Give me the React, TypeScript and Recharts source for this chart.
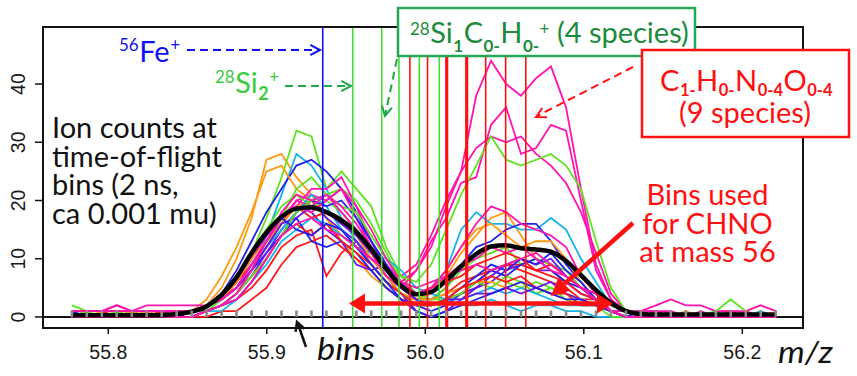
import React from 'react';
import { ComposedChart, Line, Scatter, XAxis, YAxis, ReferenceLine } from 'recharts';

// time-of-flight bin centres (m/z)
const bins = [55.777, 55.7864, 55.7959, 55.8053, 55.8148, 55.8242, 55.8337, 55.8431, 55.8526, 55.862, 55.8715, 55.8809, 55.8904, 55.8998, 55.9093, 55.9187, 55.9282, 55.9376, 55.9471, 55.9565, 55.9659, 55.9754, 55.9848, 55.9943, 56.0037, 56.0132, 56.0226, 56.0321, 56.0415, 56.051, 56.0604, 56.0699, 56.0793, 56.0888, 56.0982, 56.1077, 56.1171, 56.1266, 56.136, 56.1455, 56.1549, 56.1644, 56.1738, 56.1833, 56.1927, 56.2022, 56.2116, 56.2211];

const meanCounts = [0.3, 0.3, 0.3, 0.3, 0.3, 0.3, 0.3, 0.5, 0.9, 1.8, 3.8, 6.8, 11.0, 14.5, 17.2, 18.6, 18.8, 18.0, 16.6, 14.6, 11.6, 8.2, 5.3, 3.9, 4.3, 6.3, 8.7, 10.8, 12.1, 12.3, 11.8, 11.6, 11.2, 9.6, 7.2, 4.6, 2.4, 1.0, 0.5, 0.4, 0.4, 0.4, 0.4, 0.4, 0.4, 0.4, 0.4, 0.4];

const red1 = [0,0,0,0,0,0,0,0, 0,1,2,3,5,8,12,14, 15,7,11,13,9,6,4,3, 3,4,6,7,8,9,8,7, 6,5,3,3,1,0,0,0, 0,0,0,0,0,0,0,0];
const red2 = [0,0,0,0,0,0,0,0, 0,0,1,1,3,5,9,12, 13,14,12,10,8,5,3,2, 2,3,4,6,8,9,9,8, 7,6,4,3,1,0,0,0, 0,0,0,0,0,0,0,0];
const red3 = [1,1,1,0,1,0,1,0, 1,2,3,6,9,13,16,19, 17,18,16,14,11,7,5,4, 5,6,7,9,10,11,10,8, 9,7,5,4,2,1,0,1, 0,0,0,0,1,0,0,0];
const red4 = [0,0,0,0,0,0,0,0, 0,1,2,4,7,10,14,16, 14,16,13,11,9,6,4,2, 2,3,5,6,7,6,7,5, 4,4,2,2,1,0,0,0, 0,0,0,0,0,0,0,0];
const orange1 = [1,1,1,1,1,0,1,1, 1,2,5,10,17,27,28,24, 21,17,13,10,7,5,3,3, 4,7,11,14,17,18,14,10, 9,7,5,3,1,1,1,0, 1,0,0,1,1,0,1,0];
const orange2 = [0,0,1,0,0,1,0,1, 1,3,7,12,18,25,26,22, 20,17,14,12,9,6,4,3, 5,8,12,15,16,14,12,13, 13,10,6,3,1,0,0,0, 0,1,0,0,0,1,0,0];
const orange3 = [0,0,0,0,1,0,0,0, 1,2,3,6,10,13,16,19, 20,18,17,14,10,7,4,3, 3,4,5,6,6,5,6,5, 4,3,3,2,1,0,0,0, 0,0,0,0,0,0,0,0];
const green1 = [2,1,1,1,0,0,1,0, 1,1,3,6,11,17,24,32, 31,22,25,22,19,12,7,4, 3,3,4,5,7,6,5,6, 5,4,3,2,1,0,0,0, 0,0,0,1,0,0,0,0];
const green2 = [0,0,0,1,0,0,0,0, 0,1,2,4,8,12,17,22, 24,21,22,20,16,11,6,3, 3,5,8,10,11,12,9,10, 9,8,5,3,1,1,0,0, 0,0,0,1,3,1,0,0];
const green3 = [0,0,0,0,0,0,0,1, 1,2,4,7,11,15,19,21, 19,20,18,15,12,8,5,3, 2,3,4,6,5,7,6,4, 5,3,2,2,0,0,0,0, 0,0,0,0,0,0,0,0];
const green4 = [0,1,0,0,0,0,0,0, 0,1,2,4,7,10,14,18, 20,21,19,18,14,10,7,6, 9,15,21,26,31,27,26,27, 28,26,22,13,5,1,1,0, 0,0,0,0,0,0,0,0];
const cyan1 = [0,0,0,0,0,0,0,0, 0,1,2,4,8,14,21,28, 26,22,17,13,10,8,6,4, 5,8,15,18,16,16,15,15, 17,15,10,6,2,1,0,1, 0,0,0,0,0,0,1,0];
const cyan2 = [0,0,0,0,0,0,0,0, 0,1,1,3,6,9,13,15, 17,16,14,12,11,10,8,5, 4,3,2,2,3,2,1,2, 2,1,1,0,0,0,0,0, 0,0,0,0,0,0,0,0];
const cyan3 = [1,0,0,0,0,0,0,0, 1,2,3,5,9,12,15,18, 21,19,15,12,9,6,4,2, 2,3,3,4,5,4,5,4, 3,2,2,2,1,0,0,0, 0,0,0,0,0,0,0,0];
const blue1 = [0,0,0,0,0,1,0,1, 1,2,4,8,13,18,22,26, 27,25,22,18,13,8,5,3, 3,5,9,12,13,15,16,16, 13,9,6,3,1,1,1,1, 0,0,0,0,0,0,0,0];
const blue2 = [0,0,0,0,1,1,1,0, 1,2,3,5,8,11,14,17, 13,12,13,11,8,5,3,2, 1,2,4,6,8,7,9,10, 8,6,5,3,1,0,0,0, 0,0,0,0,0,0,0,0];
const blue3 = [0,0,0,0,0,0,0,0, 0,1,2,3,6,10,14,18, 20,19,20,17,13,9,5,3, 2,3,5,7,9,8,10,9, 11,8,6,3,1,0,1,0, 0,0,0,0,0,0,0,0];
const blue4 = [1,0,0,0,0,0,0,0, 1,2,4,7,11,14,17,15, 14,16,15,12,9,6,3,1, 0,1,2,3,4,5,6,5, 4,3,3,2,1,0,0,0, 0,0,0,0,0,0,0,0];
const purple1 = [0,0,0,0,0,0,1,0, 1,2,3,6,10,14,17,19, 18,15,13,9,8,9,6,3, 2,3,4,5,6,8,9,8, 8,6,4,3,1,0,0,0, 0,0,0,0,0,0,0,0];
const purple2 = [0,0,0,0,0,0,0,0, 0,1,2,4,7,11,15,18, 20,17,15,13,10,7,4,1, 0,1,3,5,7,9,10,9, 10,7,5,3,1,1,0,0, 0,0,0,0,0,0,0,0];
const purple3 = [0,0,0,0,0,0,0,0, 1,2,3,5,8,12,16,17, 19,18,16,14,11,8,5,3, 2,3,3,4,4,5,4,5, 6,4,3,2,1,0,0,0, 0,0,0,0,0,0,0,0];
const pink1 = [1,1,1,2,1,1,1,1, 1,2,3,5,9,12,16,20, 21,20,22,17,12,8,7,9, 14,20,25,38,44,40,38,41, 43,36,22,9,3,1,1,2, 3,2,2,1,1,1,2,1];
const pink2 = [1,1,1,2,1,2,2,2, 2,2,3,6,10,14,17,19, 22,22,24,19,13,9,6,8, 13,17,23,24,33,36,28,29, 33,32,20,8,3,1,1,1, 1,0,1,0,0,1,0,0];
const pink3 = [0,1,1,1,1,1,1,1, 1,2,3,5,9,13,17,20, 19,21,18,15,11,7,5,8, 12,19,25,29,31,30,31,28, 26,23,18,11,4,1,1,1, 0,0,0,0,1,0,0,0];
const pink4 = [0,0,0,0,0,0,0,0, 0,1,2,4,8,13,18,21, 20,21,19,16,12,8,5,4, 5,8,12,16,19,18,16,15, 14,12,7,4,1,0,0,0, 0,0,0,0,0,0,0,0];
const pink5 = [1,1,1,1,1,1,1,1, 1,2,3,5,9,13,17,19, 18,20,22,19,15,10,6,4, 5,7,9,10,12,11,12,10, 8,7,5,3,1,1,1,0, 1,0,0,0,0,0,0,0];
const pink6 = [0,0,0,0,0,0,0,0, 0,1,2,3,6,10,14,16, 17,15,14,12,10,8,6,5, 6,7,8,9,8,9,10,11, 9,7,5,4,1,0,0,0, 0,0,0,0,0,0,0,0];

const xTicks = [55.8, 55.9, 56.0, 56.1, 56.2];
const yTicks = [0, 10, 20, 30, 40];

// species positions (m/z)
const feMass = 55.9353;
const si2Mass = 55.9542;
const siSpecies = [55.9725, 55.9834, 55.9962, 56.0088];
const chnoSpecies = [55.9903, 56.0014, 56.0132, 56.0138, 56.0258, 56.0264, 56.0381, 56.0507, 56.0634];

const RED = '#FF1A1A';
const ORANGE = '#FF9A10';
const GREEN = '#5EE41E';
const CYAN = '#14B4EE';
const BLUE = '#2222EE';
const PURPLE = '#6A14F0';
const PINK = '#FF14B0';

const series = [
  { key: 'red1', color: RED, values: red1 },
  { key: 'orange1', color: ORANGE, values: orange1 },
  { key: 'green1', color: GREEN, values: green1 },
  { key: 'cyan1', color: CYAN, values: cyan1 },
  { key: 'blue1', color: BLUE, values: blue1 },
  { key: 'purple1', color: PURPLE, values: purple1 },
  { key: 'pink1', color: PINK, values: pink1 },
  { key: 'red2', color: RED, values: red2 },
  { key: 'orange2', color: ORANGE, values: orange2 },
  { key: 'green2', color: GREEN, values: green2 },
  { key: 'cyan2', color: CYAN, values: cyan2 },
  { key: 'blue2', color: BLUE, values: blue2 },
  { key: 'purple2', color: PURPLE, values: purple2 },
  { key: 'pink2', color: PINK, values: pink2 },
  { key: 'red3', color: RED, values: red3 },
  { key: 'orange3', color: ORANGE, values: orange3 },
  { key: 'green3', color: GREEN, values: green3 },
  { key: 'cyan3', color: CYAN, values: cyan3 },
  { key: 'blue3', color: BLUE, values: blue3 },
  { key: 'purple3', color: PURPLE, values: purple3 },
  { key: 'pink3', color: PINK, values: pink3 },
  { key: 'red4', color: RED, values: red4 },
  { key: 'green4', color: GREEN, values: green4 },
  { key: 'blue4', color: BLUE, values: blue4 },
  { key: 'pink4', color: PINK, values: pink4 },
  { key: 'pink5', color: PINK, values: pink5 },
  { key: 'pink6', color: PINK, values: pink6 },
];

const rows = bins.map((x, i) => {
  const r: Record<string, number> = { x, mean: meanCounts[i], binMark: 0 };
  series.forEach((s) => { r[s.key] = s.values[i]; });
  return r;
});

const AXIS_FONT = "'Liberation Sans', Arial, sans-serif";
const LABEL_FONT = "Lato, 'Open Sans', sans-serif";

const XTick = (props: any) => (
  <text x={props.x} y={358.5} textAnchor="middle" fontFamily={AXIS_FONT} fontSize={19.5} fill="#1a1a1a">
    {Number(props.payload.value).toFixed(1)}
  </text>
);

const YTick = (props: any) => (
  <text x={25} y={props.y} transform={`rotate(-90 25 ${props.y})`} textAnchor="middle" fontFamily={AXIS_FONT} fontSize={19.5} fill="#1a1a1a">
    {props.payload.value}
  </text>
);

const BinMark = (props: any) => (
  <rect x={props.cx - 1.3} y={props.cy - 6.5} width={2.6} height={6.5} fill="#8a8a8a" />
);

function openHead(x1: number, y1: number, x2: number, y2: number, size: number) {
  const t = Math.atan2(y2 - y1, x2 - x1);
  const phi = (28 * Math.PI) / 180;
  const ax = x2 - size * Math.cos(t - phi);
  const ay = y2 - size * Math.sin(t - phi);
  const bx = x2 - size * Math.cos(t + phi);
  const by = y2 - size * Math.sin(t + phi);
  return `M${ax},${ay} L${x2},${y2} L${bx},${by}`;
}

function filledHead(x1: number, y1: number, x2: number, y2: number, len: number, half: number) {
  const t = Math.atan2(y2 - y1, x2 - x1);
  const cx = x2 - len * Math.cos(t);
  const cy = y2 - len * Math.sin(t);
  const nx = -Math.sin(t);
  const ny = Math.cos(t);
  return { pts: `${x2},${y2} ${cx + half * nx},${cy + half * ny} ${cx - half * nx},${cy - half * ny}`, cx, cy };
}

const DashArrow = ({ x1, y1, x2, y2, color }: any) => (
  <g>
    <line x1={x1} y1={y1} x2={x2} y2={y2} stroke={color} strokeWidth={2} strokeDasharray="8 5" />
    <path d={openHead(x1, y1, x2, y2, 11)} stroke={color} strokeWidth={2} fill="none" />
  </g>
);

const SolidArrow = ({ x1, y1, x2, y2, color, width, len, half, both }: any) => {
  const h2 = filledHead(x1, y1, x2, y2, len, half);
  const h1 = filledHead(x2, y2, x1, y1, len, half);
  const sx = both ? h1.cx : x1;
  const sy = both ? h1.cy : y1;
  return (
    <g>
      <line x1={sx} y1={sy} x2={h2.cx} y2={h2.cy} stroke={color} strokeWidth={width} />
      <polygon points={h2.pts} fill={color} />
      {both && <polygon points={h1.pts} fill={color} />}
    </g>
  );
};

const Overlay = () => (
  <svg width={857} height={376} style={{ position: 'absolute', left: 0, top: 0, pointerEvents: 'none' }}>
    <rect x={43} y={27} width={760} height={301} fill="none" stroke="#111" strokeWidth={2} />

    {/* left description */}
    <g fontFamily={LABEL_FONT} fontSize={29} fill="#111">
      <text x={52} y={138}>Ion counts at</text>
      <text x={52} y={166.5}>time-of-flight</text>
      <text x={52} y={195}>bins (2 ns,</text>
      <text x={52} y={223.5}>ca 0.001 mu)</text>
    </g>

    {/* Fe */}
    <text x={119} y={51} fontFamily={LABEL_FONT} fill="#1010F0" fontSize={17}>
      56<tspan y={62} dx={0.5} fontSize={29}>Fe</tspan><tspan y={51} dx={0.5} fontSize={17}>+</tspan>
    </text>
    <DashArrow x1={187} y1={50} x2={320} y2={50} color="#1010F0" />

    {/* Si2 */}
    <text x={215} y={83} fontFamily={LABEL_FONT} fill="#3CCB3C" fontSize={17}>
      28<tspan y={93} dx={0.5} fontSize={29}>Si</tspan><tspan y={100} dx={0.5} fontSize={18} fontWeight="bold">2</tspan><tspan y={83} dx={0.5} fontSize={17}>+</tspan>
    </text>
    <DashArrow x1={285} y1={86} x2={351} y2={86} color="#1FA84A" />

    {/* Si species box */}
    <rect x={398} y={8} width={297} height={48} fill="#fff" stroke="#22A855" strokeWidth={2.5} />
    <text x={410} y={35} fontFamily={LABEL_FONT} fill="#1C8C3C" fontSize={17}>
      28<tspan y={43} dx={0.5} fontSize={29}>Si</tspan><tspan y={51.5} dx={0.5} fontSize={17} fontWeight="bold">1</tspan><tspan y={43} dx={0.5} fontSize={29}>C</tspan><tspan y={51.5} dx={0.5} fontSize={17} fontWeight="bold">0-</tspan><tspan y={43} dx={0.5} fontSize={29}>H</tspan><tspan y={51.5} dx={0.5} fontSize={17} fontWeight="bold">0-</tspan><tspan y={35} dx={0.5} fontSize={17}>+</tspan><tspan y={43} fontSize={29}> (4 species)</tspan>
    </text>
    <DashArrow x1={397} y1={59} x2={385} y2={116} color="#1FA84A" />

    {/* CHNO box */}
    <rect x={642} y={50} width={207} height={87} fill="#fff" stroke="#FF1010" strokeWidth={2.5} />
    <text x={660} y={91} fontFamily={LABEL_FONT} fill="#FF1010" fontSize={29}>
      C<tspan y={95.5} dx={0.5} fontSize={16.5} fontWeight="bold">1-</tspan><tspan y={91} dx={0.5} fontSize={29}>H</tspan><tspan y={95.5} dx={0.5} fontSize={16.5} fontWeight="bold">0-</tspan><tspan y={91} dx={0.5} fontSize={29}>N</tspan><tspan y={95.5} dx={0.5} fontSize={16.5} fontWeight="bold">0-4</tspan><tspan y={91} dx={0.5} fontSize={29}>O</tspan><tspan y={95.5} dx={0.5} fontSize={16.5} fontWeight="bold">0-4</tspan>
    </text>
    <text x={745} y={123} fontFamily={LABEL_FONT} fontSize={29} fill="#FF1010" textAnchor="middle">(9 species)</text>
    <g>
      <line x1={633} y1={67} x2={537} y2={116} stroke="#FF1010" strokeWidth={2} strokeDasharray="8 5" />
      <path d={openHead(633, 67, 536, 117, 11)} stroke="#FF1010" strokeWidth={2} fill="none" />
    </g>

    {/* bins used */}
    <g fontFamily={LABEL_FONT} fontSize={29} fill="#FF1010" textAnchor="middle">
      <text x={707.5} y={205}>Bins used</text>
      <text x={707.5} y={233.5}>for CHNO</text>
      <text x={707.5} y={262}>at mass 56</text>
    </g>
    <SolidArrow x1={633} y1={223} x2={551} y2={296} color="#FF1010" width={4.5} len={18} half={9} />
    <SolidArrow x1={349} y1={303.5} x2={613} y2={303.5} color="#FF1010" width={4.5} len={16} half={10} both />

    {/* bins label */}
    <line x1={306} y1={347} x2={298} y2={324} stroke="#111" strokeWidth={2.5} />
    <path d={openHead(306, 347, 297, 322, 10)} stroke="#111" strokeWidth={2.5} fill="none" />
    <text x={317} y={360} fontFamily={LABEL_FONT} fontStyle="italic" fontSize={30} fill="#111" textLength={58} lengthAdjust="spacingAndGlyphs">bins</text>
    <text x={778} y={363} fontFamily={LABEL_FONT} fontStyle="italic" fontSize={30} fill="#111" textLength={55} lengthAdjust="spacingAndGlyphs">m/z</text>
  </svg>
);

export default function App() {
  return (
    <div style={{ position: 'relative', width: 857, height: 376, background: '#fff' }}>
      <style>{`body{margin:0;background:#fff}`}</style>
      <ComposedChart width={857} height={376} data={rows} margin={{ top: 27, right: 54, bottom: 0, left: 0 }}>
        <XAxis
          dataKey="x"
          type="number"
          domain={[55.7588, 56.2383]}
          ticks={xTicks}
          allowDataOverflow
          height={48}
          axisLine={false}
          tickSize={6}
          tickLine={{ stroke: '#111', strokeWidth: 1.5 }}
          tick={XTick}
          interval={0}
        />
        <YAxis
          type="number"
          domain={[-1.9, 49.8]}
          ticks={yTicks}
          allowDataOverflow
          width={43}
          axisLine={false}
          tickSize={8}
          tickLine={{ stroke: '#111', strokeWidth: 1.5 }}
          tick={YTick}
          interval={0}
        />
        <ReferenceLine y={0} stroke="#111" strokeWidth={2} />
        {series.map((s) => (
          <Line
            key={s.key}
            dataKey={s.key}
            type="linear"
            stroke={s.color}
            strokeWidth={1.8}
            dot={false}
            activeDot={false}
            isAnimationActive={false}
          />
        ))}
        <Line dataKey="mean" type="monotone" stroke="#000" strokeWidth={4.5} dot={false} activeDot={false} isAnimationActive={false} />
        <Scatter dataKey="binMark" shape={BinMark} isAnimationActive={false} />
        <ReferenceLine x={feMass} stroke="#1010F0" strokeWidth={1.6} />
        <ReferenceLine x={si2Mass} stroke="#44DD33" strokeWidth={1.6} />
        {siSpecies.map((m) => (
          <ReferenceLine key={`si${m}`} x={m} stroke="#44DD33" strokeWidth={1.6} />
        ))}
        {chnoSpecies.map((m, i) => (
          <ReferenceLine key={`ch${i}`} x={m} stroke="#FF1010" strokeWidth={i >= 2 && i <= 5 ? 2.2 : 1.6} />
        ))}
      </ComposedChart>
      <Overlay />
    </div>
  );
}
